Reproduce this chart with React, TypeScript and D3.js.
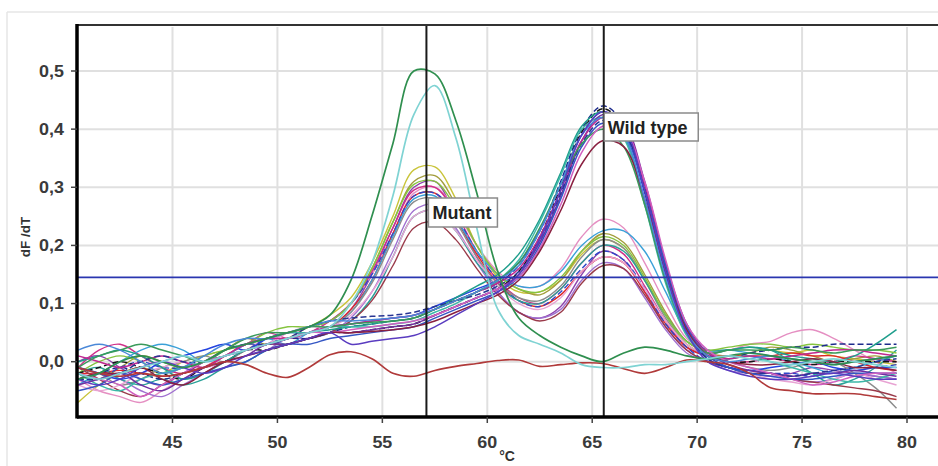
import React from "react";
import * as d3 from "d3";

// melting temperatures (°C) at which every dF/dT curve is sampled
const temps = [40.5, 41.5, 42.5, 43.5, 44.5, 45.5, 46.5, 47.5, 48.5, 49.5, 50.5, 51.5, 52.5,
  53.5, 54.5, 55.5, 56.5, 57.5, 58.5, 59.5, 60.5, 61.5, 62.5, 63.5, 64.5, 65.5, 66.5, 67.5,
  68.5, 69.5, 70.5, 71.5, 72.5, 73.5, 74.5, 75.5, 76.5, 77.5, 78.5, 79.5];

const xTicks = [45, 50, 55, 60, 65, 70, 75, 80];
const yTicks = [0, 0.1, 0.2, 0.3, 0.4, 0.5];

const thresholdValue = 0.145;
const mutantMarkerTemp = 57.1;
const wildTypeMarkerTemp = 65.55;

// samples with the mutant melting peak (~57 °C) and a smaller peak at ~65.5 °C
const mutantCurves = [
  [-0.07, -0.04, -0.02, -0.01, -0.02, 0.0, 0.01, 0.02, 0.03, 0.04, 0.05, 0.06, 0.08, 0.11, 0.17, 0.25, 0.33, 0.335, 0.28, 0.2, 0.145, 0.12, 0.12, 0.14, 0.185, 0.21, 0.195, 0.14, 0.08, 0.03, 0.015, 0.02, 0.025, 0.02, 0.015, 0.02, 0.01, 0.005, 0.0, -0.005],
  [-0.02, -0.03, -0.01, 0.01, 0.0, -0.01, 0.0, 0.02, 0.04, 0.03, 0.04, 0.06, 0.07, 0.1, 0.16, 0.24, 0.31, 0.32, 0.27, 0.2, 0.15, 0.125, 0.115, 0.14, 0.19, 0.22, 0.205, 0.15, 0.085, 0.035, 0.015, 0.01, 0.015, 0.025, 0.02, 0.01, 0.0, 0.005, 0.01, 0.0],
  [0.0, 0.01, -0.01, -0.03, -0.04, -0.02, -0.01, 0.01, 0.02, 0.03, 0.05, 0.05, 0.06, 0.09, 0.15, 0.23, 0.3, 0.31, 0.25, 0.18, 0.12, 0.085, 0.075, 0.095, 0.15, 0.19, 0.175, 0.12, 0.06, 0.02, 0.0, -0.01, -0.02, -0.025, -0.02, -0.01, -0.015, -0.02, -0.025, -0.03],
  [-0.03, -0.05, -0.06, -0.07, -0.05, -0.03, -0.01, 0.01, 0.02, 0.04, 0.04, 0.05, 0.07, 0.1, 0.15, 0.22, 0.29, 0.3, 0.26, 0.2, 0.155, 0.13, 0.13, 0.16, 0.215, 0.245, 0.23, 0.17, 0.1, 0.04, 0.02, 0.02, 0.03, 0.035, 0.05, 0.055, 0.04, 0.02, 0.0, -0.02],
  [-0.01, 0.02, 0.03, 0.01, -0.01, -0.02, 0.0, 0.02, 0.03, 0.05, 0.04, 0.05, 0.07, 0.1, 0.155, 0.23, 0.295, 0.3, 0.255, 0.19, 0.14, 0.11, 0.1, 0.125, 0.17, 0.2, 0.185, 0.13, 0.07, 0.025, 0.01, 0.0, 0.0, 0.005, 0.0, -0.005, 0.0, 0.01, 0.005, 0.0],
  [-0.02, -0.02, -0.015, -0.02, -0.025, -0.02, -0.01, 0.01, 0.03, 0.04, 0.05, 0.05, 0.06, 0.09, 0.14, 0.22, 0.285, 0.29, 0.245, 0.185, 0.135, 0.105, 0.095, 0.115, 0.155, 0.18, 0.17, 0.12, 0.065, 0.025, 0.01, 0.01, 0.01, 0.01, 0.015, 0.01, 0.01, 0.0, -0.01, -0.015],
  [-0.03, -0.03, -0.01, 0.0, -0.01, -0.01, 0.0, 0.01, 0.02, 0.04, 0.05, 0.06, 0.07, 0.1, 0.15, 0.22, 0.285, 0.29, 0.25, 0.19, 0.14, 0.105, 0.095, 0.12, 0.16, 0.19, 0.175, 0.125, 0.065, 0.025, 0.0, -0.01, -0.015, -0.02, -0.02, -0.025, -0.015, -0.01, -0.01, -0.005],
  [-0.04, -0.02, 0.0, 0.02, 0.03, 0.02, 0.0, 0.01, 0.03, 0.04, 0.03, 0.05, 0.06, 0.085, 0.14, 0.215, 0.28, 0.285, 0.245, 0.19, 0.15, 0.13, 0.13, 0.155, 0.2, 0.225, 0.225, 0.19, 0.12, 0.05, 0.02, 0.02, 0.015, 0.01, 0.0, -0.01, -0.02, -0.01, 0.0, 0.01],
  [-0.01, -0.02, -0.04, -0.03, -0.01, 0.0, 0.01, 0.0, 0.02, 0.03, 0.04, 0.05, 0.06, 0.085, 0.135, 0.21, 0.275, 0.28, 0.24, 0.18, 0.135, 0.11, 0.105, 0.13, 0.18, 0.21, 0.195, 0.14, 0.075, 0.03, 0.01, 0.0, -0.01, -0.015, -0.01, 0.0, 0.0, -0.02, -0.045, -0.08],
  [-0.03, -0.02, -0.03, -0.05, -0.06, -0.04, -0.02, 0.0, 0.01, 0.02, 0.04, 0.04, 0.05, 0.075, 0.12, 0.19, 0.26, 0.27, 0.23, 0.17, 0.12, 0.085, 0.075, 0.09, 0.14, 0.17, 0.16, 0.11, 0.055, 0.015, 0.0, -0.015, -0.02, -0.02, -0.03, -0.035, -0.03, -0.02, -0.025, -0.03],
  [-0.02, -0.01, -0.03, -0.04, -0.03, -0.04, -0.03, -0.01, 0.0, 0.02, 0.03, 0.04, 0.05, 0.07, 0.11, 0.18, 0.25, 0.26, 0.225, 0.17, 0.13, 0.105, 0.1, 0.125, 0.17, 0.2, 0.19, 0.14, 0.08, 0.035, 0.02, 0.02, 0.025, 0.02, 0.0, -0.02, -0.04, -0.03, -0.01, 0.02],
  [-0.01, -0.03, -0.05, -0.06, -0.04, -0.02, -0.01, 0.0, 0.02, 0.03, 0.03, 0.04, 0.05, 0.07, 0.105, 0.165, 0.23, 0.24, 0.21, 0.16, 0.115, 0.085, 0.07, 0.085, 0.135, 0.165, 0.16, 0.115, 0.06, 0.02, 0.0, -0.01, -0.02, -0.02, -0.03, -0.035, -0.04, -0.045, -0.05, -0.06],
  [-0.02, 0.0, 0.01, 0.0, -0.02, -0.01, 0.01, 0.02, 0.03, 0.05, 0.06, 0.06, 0.07, 0.1, 0.16, 0.24, 0.305, 0.31, 0.265, 0.2, 0.15, 0.125, 0.12, 0.145, 0.19, 0.215, 0.2, 0.145, 0.08, 0.035, 0.02, 0.025, 0.03, 0.03, 0.025, 0.03, 0.025, 0.02, 0.02, 0.015],
  [-0.04, -0.05, -0.04, -0.02, -0.01, 0.0, -0.01, 0.0, 0.02, 0.03, 0.05, 0.06, 0.06, 0.08, 0.12, 0.18, 0.25, 0.26, 0.225, 0.175, 0.13, 0.1, 0.09, 0.11, 0.155, 0.18, 0.17, 0.125, 0.07, 0.03, 0.01, -0.005, -0.02, -0.03, -0.035, -0.04, -0.03, -0.02, -0.03, -0.04],
];
const mutantColors = ["#c9c43a", "#a39d3c", "#8e44ad", "#e58fc2", "#d0308a", "#e02828", "#2f45c8",
  "#3aa0d8", "#8c8c8c", "#a070d0", "#2aa198", "#9a3a4a", "#86c440", "#e8a3d3"];
const mutantDashed = [6];

// samples with the wild type melting peak (~65.5 °C)
const wildTypeCurves = [
  [-0.03, -0.02, -0.01, -0.02, -0.03, -0.02, 0.0, 0.01, 0.02, 0.03, 0.04, 0.04, 0.05, 0.06, 0.065, 0.07, 0.075, 0.09, 0.105, 0.12, 0.135, 0.165, 0.225, 0.31, 0.4, 0.44, 0.41, 0.3, 0.16, 0.055, 0.01, 0.005, 0.015, 0.02, 0.025, 0.025, 0.03, 0.03, 0.03, 0.03],
  [-0.01, -0.02, -0.03, -0.02, 0.0, 0.01, 0.02, 0.03, 0.02, 0.04, 0.05, 0.05, 0.06, 0.065, 0.07, 0.075, 0.08, 0.095, 0.11, 0.125, 0.14, 0.17, 0.225, 0.305, 0.39, 0.43, 0.4, 0.29, 0.15, 0.05, 0.005, -0.01, -0.015, -0.01, -0.005, 0.0, -0.01, -0.015, -0.01, -0.01],
  [-0.02, -0.01, 0.0, -0.01, -0.02, -0.03, -0.01, 0.0, 0.02, 0.02, 0.03, 0.04, 0.05, 0.05, 0.055, 0.06, 0.065, 0.08, 0.095, 0.11, 0.125, 0.155, 0.215, 0.3, 0.395, 0.435, 0.405, 0.295, 0.155, 0.055, 0.01, 0.0, 0.0, 0.005, 0.0, -0.005, 0.0, 0.0, 0.0, 0.0],
  [0.0, 0.01, 0.02, 0.01, -0.01, -0.03, -0.02, 0.0, 0.02, 0.03, 0.04, 0.05, 0.055, 0.06, 0.065, 0.07, 0.075, 0.09, 0.11, 0.13, 0.15, 0.185, 0.245, 0.325, 0.405, 0.43, 0.39, 0.275, 0.14, 0.05, 0.015, 0.02, 0.025, 0.02, 0.01, 0.005, 0.0, 0.01, 0.03, 0.055],
  [-0.02, -0.04, -0.05, -0.03, -0.02, -0.01, 0.0, 0.02, 0.03, 0.04, 0.05, 0.05, 0.06, 0.06, 0.06, 0.065, 0.07, 0.085, 0.1, 0.12, 0.14, 0.175, 0.24, 0.32, 0.4, 0.42, 0.385, 0.27, 0.135, 0.045, 0.01, 0.005, 0.01, 0.0, -0.01, -0.02, -0.03, -0.035, -0.03, -0.02],
  [-0.04, -0.03, -0.02, -0.04, -0.05, -0.03, -0.01, 0.0, 0.01, 0.03, 0.03, 0.04, 0.05, 0.05, 0.055, 0.06, 0.065, 0.08, 0.095, 0.11, 0.125, 0.15, 0.205, 0.285, 0.38, 0.425, 0.41, 0.31, 0.17, 0.065, 0.015, -0.005, -0.015, -0.02, -0.025, -0.02, -0.02, -0.015, -0.02, -0.025],
  [0.01, 0.0, -0.01, 0.0, 0.01, 0.0, -0.01, 0.01, 0.03, 0.04, 0.04, 0.05, 0.06, 0.065, 0.07, 0.075, 0.08, 0.09, 0.105, 0.12, 0.135, 0.16, 0.215, 0.295, 0.38, 0.42, 0.405, 0.305, 0.165, 0.06, 0.015, 0.005, 0.01, 0.005, 0.01, 0.015, 0.02, 0.02, 0.015, 0.01],
  [-0.03, -0.03, -0.02, 0.0, 0.01, 0.0, 0.0, 0.02, 0.03, 0.03, 0.04, 0.06, 0.07, 0.075, 0.078, 0.08, 0.085, 0.095, 0.105, 0.115, 0.13, 0.155, 0.21, 0.29, 0.375, 0.415, 0.395, 0.295, 0.16, 0.055, 0.005, -0.01, -0.02, -0.02, -0.025, -0.02, -0.015, -0.01, 0.0, 0.005],
  [-0.05, -0.04, -0.02, -0.03, -0.04, -0.03, -0.02, -0.01, 0.0, 0.02, 0.03, 0.03, 0.04, 0.045, 0.05, 0.055, 0.06, 0.075, 0.09, 0.105, 0.12, 0.145, 0.2, 0.28, 0.37, 0.41, 0.39, 0.295, 0.165, 0.06, 0.01, -0.01, -0.02, -0.025, -0.03, -0.03, -0.025, -0.02, -0.02, -0.02],
  [-0.01, 0.01, 0.02, 0.03, 0.02, 0.01, 0.0, 0.02, 0.04, 0.05, 0.05, 0.06, 0.06, 0.065, 0.068, 0.07, 0.075, 0.09, 0.105, 0.12, 0.14, 0.17, 0.23, 0.305, 0.375, 0.4, 0.37, 0.27, 0.14, 0.05, 0.015, 0.02, 0.02, 0.02, 0.025, 0.02, 0.015, 0.02, 0.02, 0.025],
  [-0.02, -0.03, -0.04, -0.06, -0.04, -0.02, 0.0, 0.01, 0.02, 0.03, 0.04, 0.05, 0.05, 0.055, 0.06, 0.065, 0.07, 0.08, 0.095, 0.11, 0.125, 0.145, 0.195, 0.27, 0.36, 0.405, 0.4, 0.31, 0.175, 0.065, 0.02, 0.0, -0.01, -0.02, -0.03, -0.04, -0.035, -0.025, -0.02, -0.02],
  [-0.03, -0.02, -0.02, -0.01, -0.03, -0.04, -0.02, 0.0, 0.01, 0.02, 0.03, 0.04, 0.05, 0.05, 0.052, 0.055, 0.06, 0.07, 0.085, 0.1, 0.115, 0.14, 0.19, 0.26, 0.34, 0.38, 0.37, 0.28, 0.155, 0.055, 0.01, 0.0, -0.005, -0.005, 0.0, 0.005, 0.0, -0.01, -0.01, -0.015],
  [0.02, 0.03, 0.02, 0.0, -0.02, -0.01, 0.01, 0.03, 0.04, 0.04, 0.05, 0.06, 0.07, 0.07, 0.072, 0.075, 0.08, 0.09, 0.105, 0.12, 0.14, 0.165, 0.225, 0.305, 0.39, 0.42, 0.39, 0.28, 0.145, 0.05, 0.01, 0.0, 0.005, 0.01, 0.005, 0.0, -0.005, 0.0, 0.005, 0.01],
  [-0.03, -0.04, -0.03, -0.01, 0.0, -0.01, -0.02, -0.01, 0.01, 0.02, 0.03, 0.04, 0.05, 0.03, 0.035, 0.04, 0.045, 0.06, 0.08, 0.1, 0.12, 0.15, 0.21, 0.295, 0.39, 0.43, 0.405, 0.295, 0.155, 0.05, 0.0, -0.015, -0.025, -0.03, -0.03, -0.025, -0.02, -0.025, -0.03, -0.03],
];
const wildTypeColors = ["#1c2a8c", "#2444e0", "#151515", "#1f9e8c", "#3cb8a8", "#7030a0", "#c02890",
  "#283593", "#3456c4", "#3a9a5a", "#d060c0", "#8a2040", "#4a88d8", "#5a3cc0"];
const wildTypeDashed = [0, 2, 7];

// two strong mutant samples (tall peak, no second peak)
const strongMutantCurves = [
  [-0.03, -0.02, 0.0, 0.01, 0.0, -0.01, 0.0, 0.02, 0.03, 0.04, 0.05, 0.06, 0.08, 0.14, 0.25, 0.375, 0.5, 0.495, 0.415, 0.29, 0.155, 0.075, 0.045, 0.025, 0.01, 0.0, 0.015, 0.025, 0.02, 0.01, 0.005, 0.01, 0.015, 0.01, 0.005, 0.0, -0.005, 0.0, 0.005, 0.01],
  [-0.02, -0.03, -0.02, -0.01, 0.0, 0.01, 0.0, 0.01, 0.02, 0.03, 0.04, 0.05, 0.06, 0.1, 0.17, 0.285, 0.425, 0.475, 0.385, 0.23, 0.09, 0.045, 0.03, 0.015, -0.005, -0.01, -0.01, -0.005, -0.005, 0.0, 0.005, 0.01, 0.005, 0.0, -0.005, 0.0, 0.005, 0.0, -0.005, -0.01],
];
const strongMutantColors = ["#2f8f4f", "#7fd3d3"];

// negative control, no melting peak
const controlCurve = [-0.01, -0.02, -0.025, -0.02, -0.025, -0.02, -0.01, 0.0, -0.005, -0.02, -0.027, -0.01, 0.012,
  0.017, 0.005, -0.02, -0.025, -0.015, -0.008, -0.003, 0.002, 0.003, -0.008, -0.005, -0.002, -0.003, -0.012, -0.02,
  -0.01, 0.003, 0.0, -0.005, -0.02, -0.045, -0.05, -0.055, -0.055, -0.055, -0.06, -0.065];
const controlColor = "#b03a3a";

const W = 938, H = 466;
const plot = { left: 77, top: 25, right: 960, bottom: 417 };
const font = "'Liberation Sans', Arial, sans-serif";

const x = d3.scaleLinear().domain([45, 80]).range([172.5, 907]);
const y = d3.scaleLinear().domain([0, 0.5]).range([361.7, 71]);

const line = d3.line<number>()
  .x((_, i) => x(temps[i]))
  .y(d => y(d))
  .curve(d3.curveCatmullRom.alpha(0.5));

const fmt = (v: number) => d3.format(".1f")(v).replace(".", ",");

export default function App() {
  return (
    <svg width={W} height={H} style={{ position: "absolute", left: 0, top: 0, background: "#fff" }}
      fontFamily={font}>
      <defs>
        <clipPath id="plotClip">
          <rect x={plot.left} y={plot.top} width={plot.right - plot.left} height={plot.bottom - plot.top} />
        </clipPath>
      </defs>
      {/* outer frame */}
      <line x1={7} x2={W} y1={12} y2={12} stroke="#e6e6e6" strokeWidth={1.5} />
      <line x1={7} x2={7} y1={12} y2={H} stroke="#e6e6e6" strokeWidth={1.5} />

      {/* grid */}
      {xTicks.map(t => (
        <line key={"gx" + t} x1={x(t)} x2={x(t)} y1={plot.top + 2} y2={plot.bottom} stroke="#e0e0e0" strokeWidth={2} />
      ))}
      {yTicks.map(t => (
        <line key={"gy" + t} x1={plot.left} x2={W} y1={y(t)} y2={y(t)} stroke="#e0e0e0" strokeWidth={2} />
      ))}

      <g clipPath="url(#plotClip)" fill="none" strokeLinejoin="round">
        {mutantCurves.map((c, i) => (
          <path key={"m" + i} d={line(c) ?? ""} stroke={mutantColors[i]} strokeWidth={1.4}
            strokeDasharray={mutantDashed.includes(i) ? "6,3" : undefined} />
        ))}
        {wildTypeCurves.map((c, i) => (
          <path key={"w" + i} d={line(c) ?? ""} stroke={wildTypeColors[i]} strokeWidth={1.5}
            strokeDasharray={wildTypeDashed.includes(i) ? "6,3" : undefined} />
        ))}
        <path d={line(controlCurve) ?? ""} stroke={controlColor} strokeWidth={1.6} />
        {strongMutantCurves.map((c, i) => (
          <path key={"s" + i} d={line(c) ?? ""} stroke={strongMutantColors[i]} strokeWidth={1.7} />
        ))}
      </g>

      {/* threshold */}
      <line x1={plot.left} x2={W} y1={y(thresholdValue)} y2={y(thresholdValue)} stroke="#2a36b0" strokeWidth={1.8} />

      {/* melting point markers */}
      {[mutantMarkerTemp, wildTypeMarkerTemp].map(t => (
        <line key={"v" + t} x1={x(t)} x2={x(t)} y1={plot.top} y2={plot.bottom} stroke="#1a1a1a" strokeWidth={2} />
      ))}

      {/* labels */}
      <g>
        <rect x={x(mutantMarkerTemp) + 2} y={198} width={69} height={29} fill="#fff" stroke="#8a8a8a" strokeWidth={1.5} />
        <text x={x(mutantMarkerTemp) + 6} y={218.5} fontSize={18} fontWeight="bold" fill="#222">Mutant</text>
        <rect x={x(wildTypeMarkerTemp) + 0.5} y={113} width={94} height={28} fill="#fff" stroke="#8a8a8a" strokeWidth={1.5} />
        <text x={x(wildTypeMarkerTemp) + 4} y={134} fontSize={18} fontWeight="bold" fill="#222">Wild type</text>
      </g>

      {/* axes */}
      <line x1={plot.left} x2={W} y1={plot.top} y2={plot.top} stroke="#333" strokeWidth={2} />
      <line x1={plot.left} x2={plot.left} y1={plot.top - 1} y2={plot.bottom + 1.5} stroke="#000" strokeWidth={3.5} />
      <line x1={plot.left} x2={W} y1={plot.bottom} y2={plot.bottom} stroke="#000" strokeWidth={3.5} />
      {yTicks.map(t => (
        <g key={"ty" + t}>
          <line x1={71} x2={plot.left} y1={y(t)} y2={y(t)} stroke="#444" strokeWidth={1.5} />
          <text transform={`translate(64,${y(t)}) scale(1.12,1)`} textAnchor="end" dy="0.36em"
            fontSize={16} fontWeight="bold" fill="#3a3a3a">{fmt(t)}</text>
        </g>
      ))}
      {xTicks.map(t => (
        <g key={"tx" + t}>
          <line x1={x(t)} x2={x(t)} y1={plot.bottom} y2={plot.bottom + 6} stroke="#444" strokeWidth={1.5} />
          <text transform={`translate(${x(t)},448) scale(1.12,1)`} textAnchor="middle"
            fontSize={16} fontWeight="bold" fill="#3a3a3a">{t}</text>
        </g>
      ))}
      <text transform="translate(30,237) rotate(-90)" textAnchor="middle" fontSize={13.5} fontWeight="bold" fill="#333">dF /dT</text>
      <text x={507} y={461} textAnchor="middle" fontSize={14} fontWeight="bold" fill="#333">°C</text>
    </svg>
  );
}
